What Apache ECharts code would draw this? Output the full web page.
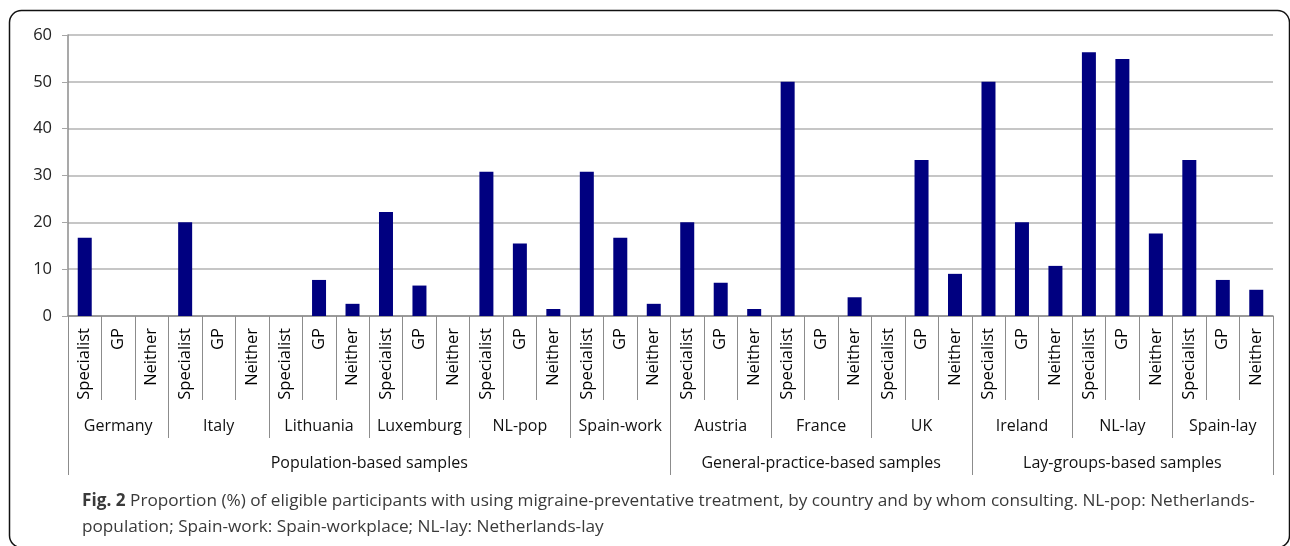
<!DOCTYPE html>
<html>
<head>
<meta charset="utf-8">
<script src="https://cdn.jsdelivr.net/npm/echarts@6/dist/echarts.min.js"></script>
<style>
  html, body { margin: 0; padding: 0; background: #fff; }
  #main { width: 1290px; height: 546px; }
</style>
</head>
<body>
<div id="main"></div>
<script>
// categories
const roles = ['Specialist', 'GP', 'Neither']
const countries = ['Germany', 'Italy', 'Lithuania', 'Luxemburg', 'NL-pop', 'Spain-work',
  'Austria', 'France', 'UK', 'Ireland', 'NL-lay', 'Spain-lay']
const groups = ['Population-based samples', 'General-practice-based samples', 'Lay-groups-based samples']
const groupSizes = [6, 3, 3] // countries per group

// proportion (%) per country: Specialist, GP, Neither
const values = [
  16.7, 0, 0,      // Germany
  20, 0, 0,        // Italy
  0, 7.7, 2.6,     // Lithuania
  22.2, 6.5, 0,    // Luxemburg
  30.8, 15.5, 1.5, // NL-pop
  30.8, 16.7, 2.6, // Spain-work
  20, 7.1, 1.5,    // Austria
  50, 0, 4.0,      // France
  0, 33.3, 9.0,    // UK
  50, 20, 10.7,    // Ireland
  56.3, 54.9, 17.6,// NL-lay
  33.3, 7.7, 5.6   // Spain-lay
]
const yTicks = [0, 10, 20, 30, 40, 50, 60]

const labelFont = "'Open Sans', sans-serif"
const lineColor = '#8c8c8c'

// bottom level: one entry per bar
const roleCats = []
countries.forEach(function () { roles.forEach(function (r) { roleCats.push(r) }) })
const n = roleCats.length

// top level: half-bar steps so that group names sit in the middle of their span
const groupCats = []
const groupLabelAt = {}
const groupTickAt = { 0: true }
let start = 0
groups.forEach(function (g, i) {
  const span = groupSizes[i] * roles.length * 2
  groupLabelAt[start + span / 2] = g
  start += span
  groupTickAt[start] = true
})
for (let k = 0; k <= n * 2; k++) groupCats.push(groupLabelAt[k] || '')

// middle level: same steps, country name in the middle of its three bars
const countryCats = []
const countryLabelAt = {}
const countryTickAt = {}
countries.forEach(function (c, i) {
  countryTickAt[i * 6] = true
  countryLabelAt[i * 6 + 3] = c
})
countryTickAt[n * 2] = true
for (let k = 0; k <= n * 2; k++) countryCats.push(countryLabelAt[k] || '')

// bottom ticks: every bar boundary
const roleTickCats = []
for (let k = 0; k <= n * 2; k++) roleTickCats.push('')

const chart = echarts.init(document.getElementById('main'))
chart.setOption({
  animation: false,
  backgroundColor: '#fff',
  grid: { left: 68, right: 17, top: 35, bottom: 230 },
  title: {
    left: 77,
    top: 483,
    text: '{b|Fig. 2} Proportion (%) of eligible participants with using migraine-preventative treatment, by country and by whom consulting. NL-pop: Netherlands-\npopulation; Spain-work: Spain-workplace; NL-lay: Netherlands-lay',
    textStyle: {
      fontFamily: labelFont,
      fontSize: 17.2,
      fontWeight: 'normal',
      color: '#3a3a3a',
      lineHeight: 26,
      rich: {
        b: { fontFamily: labelFont, fontSize: 17.2, fontWeight: 'bold', color: '#3a3a3a', lineHeight: 26 }
      }
    }
  },
  graphic: [{
    type: 'rect',
    shape: { x: 9.5, y: 10.5, width: 1280, height: 537, r: 12 },
    style: { fill: 'none', stroke: '#111', lineWidth: 1.5 },
    silent: true
  }],
  xAxis: [
    {
      type: 'category',
      data: roleCats,
      position: 'bottom',
      axisLine: { show: true, lineStyle: { color: lineColor, width: 1.5 } },
      axisTick: { show: false },
      axisLabel: {
        rotate: 90, interval: 0, margin: 12,
        fontFamily: labelFont, fontSize: 16.5, color: '#000'
      }
    },
    {
      type: 'category',
      data: roleTickCats,
      boundaryGap: false,
      position: 'bottom',
      axisLine: { show: false },
      axisTick: {
        show: true,
        length: 84,
        interval: function (i) { return i % 2 === 0 },
        lineStyle: { color: lineColor }
      },
      axisLabel: { show: false }
    },
    {
      type: 'category',
      data: countryCats,
      boundaryGap: false,
      position: 'bottom',
      offset: 84,
      axisLine: { show: false },
      axisTick: {
        show: true,
        length: 38,
        interval: function (i) { return !!countryTickAt[i] },
        lineStyle: { color: lineColor }
      },
      axisLabel: {
        interval: function (i) { return !!countryLabelAt[i] },
        margin: 18,
        fontFamily: labelFont, fontSize: 16, color: '#111'
      }
    },
    {
      type: 'category',
      data: groupCats,
      boundaryGap: false,
      position: 'bottom',
      offset: 122,
      axisLine: { show: false },
      axisTick: {
        show: true,
        length: 37,
        interval: function (i) { return !!groupTickAt[i] },
        lineStyle: { color: lineColor }
      },
      axisLabel: {
        interval: function (i) { return !!groupLabelAt[i] },
        margin: 17,
        fontFamily: labelFont, fontSize: 16, color: '#111'
      }
    }
  ],
  yAxis: {
    type: 'value',
    min: yTicks[0],
    max: yTicks[yTicks.length - 1],
    interval: yTicks[1] - yTicks[0],
    axisLine: { show: true, lineStyle: { color: lineColor, width: 1.5 } },
    axisTick: { show: true, length: 6, lineStyle: { color: '#a6a6a6' } },
    splitLine: { lineStyle: { color: '#b3b3b3', width: 1.5 } },
    axisLabel: { margin: 16, fontFamily: labelFont, fontSize: 16.5, color: '#222' }
  },
  series: [{
    type: 'bar',
    xAxisIndex: 0,
    data: values,
    barWidth: 14,
    itemStyle: { color: '#000080' }
  }]
})
</script>
</body>
</html>
